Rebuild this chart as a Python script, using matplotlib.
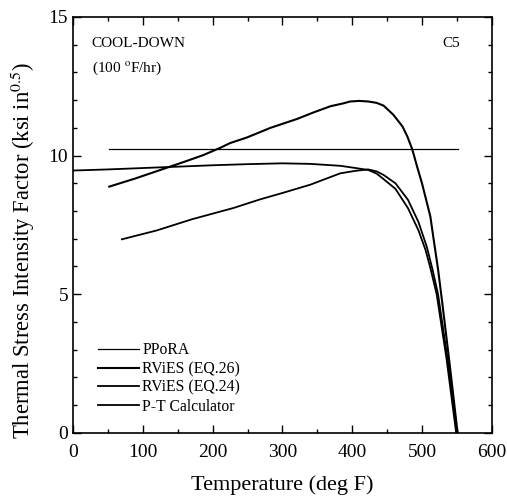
import matplotlib
matplotlib.use("Agg")
import matplotlib.pyplot as plt
from matplotlib.ticker import MultipleLocator

plt.rcParams['font.family'] = ['Liberation Serif', 'DejaVu Serif']
plt.rcParams['mathtext.fontset'] = 'stix'

# PPoRA: constant value across the transient
ppora_T = [52, 552]
ppora_K = [10.25, 10.25]

# RViES (EQ.26)
eq26_T = [52, 90, 125, 160, 187, 211, 225, 249, 283, 321, 344, 369, 387, 397,
          410, 423, 435, 445, 459, 472, 479, 486, 493, 500, 506, 512, 516, 523,
          529, 540, 551]
eq26_K = [8.88, 9.18, 9.48, 9.78, 10.02, 10.28, 10.45, 10.65, 11.0, 11.32,
          11.55, 11.78, 11.88, 11.95, 11.97, 11.95, 11.9, 11.8, 11.47, 11.05,
          10.69, 10.23, 9.6, 9.0, 8.4, 7.8, 7.1, 5.9, 4.7, 2.4, 0.0]

# RViES (EQ.24)
eq24_T = [0, 50, 100, 150, 200, 250, 300, 340, 383, 405, 423, 435, 445, 462,
          480, 495, 505, 512, 521, 535, 549]
eq24_K = [9.46, 9.5, 9.55, 9.6, 9.65, 9.69, 9.72, 9.7, 9.63, 9.55, 9.48, 9.35,
          9.15, 8.8, 8.1, 7.3, 6.6, 5.95, 5.0, 2.7, 0.0]

# P-T Calculator
pt_T = [70, 120, 170, 230, 268, 300, 340, 383, 405, 423, 435, 445, 462, 480,
        495, 507, 515, 523, 537, 550]
pt_K = [6.98, 7.3, 7.7, 8.11, 8.42, 8.65, 8.95, 9.36, 9.45, 9.5, 9.43, 9.3,
        9.0, 8.4, 7.6, 6.7, 5.9, 5.0, 2.6, 0.0]

fig = plt.figure(figsize=(5.07, 4.97), dpi=100)
ax = fig.add_axes([0.144, 0.129, 0.826, 0.837])

ax.plot(ppora_T, ppora_K, color='black', lw=0.9, label='PPoRA')
ax.plot(eq26_T, eq26_K, color='black', lw=1.5, label='RViES (EQ.26)')
ax.plot(eq24_T, eq24_K, color='black', lw=1.3, label='RViES (EQ.24)')
ax.plot(pt_T, pt_K, color='black', lw=1.3, label='P-T Calculator')

ax.set_xlim(0, 600)
ax.set_ylim(0, 15)
ax.xaxis.set_major_locator(MultipleLocator(100))
ax.xaxis.set_minor_locator(MultipleLocator(50))
ax.yaxis.set_major_locator(MultipleLocator(5))
ax.yaxis.set_minor_locator(MultipleLocator(1))
ax.tick_params(which='both', direction='in', top=True, right=True,
               labelsize=14, width=1.0)
ax.tick_params(axis='x', which='major', pad=8)
ax.tick_params(which='major', length=6)
ax.tick_params(which='minor', length=3)
for s in ax.spines.values():
    s.set_linewidth(1.2)

ax.set_xlabel('Temperature (deg F)', fontsize=16, labelpad=10)
ax.set_ylabel(r'Thermal Stress Intensity Factor (ksi in$^{0.5}$)', fontsize=16.3)
ax.yaxis.set_label_coords(-0.085, 0.4375)

ax.text(0.045, 0.927, 'COOL-DOWN', transform=ax.transAxes, fontsize=11)
ax.text(0.045, 0.867, r'(100 $^{\rm o}$F/hr)', transform=ax.transAxes, fontsize=11)
ax.text(0.883, 0.927, 'C5', transform=ax.transAxes, fontsize=11)

ax.legend(loc='upper left', bbox_to_anchor=(0.06, 0.218), frameon=False,
          fontsize=11.3, handlelength=2.6, handletextpad=0.2, labelspacing=0.18,
          borderaxespad=0.0, borderpad=0.0)

fig.savefig('out.png', dpi=100)
